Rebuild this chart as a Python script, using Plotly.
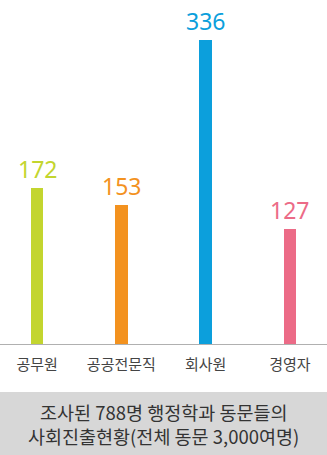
import plotly.graph_objects as go

# 사회진출 분야별 인원
categories = ["공무원", "공공전문직", "회사원", "경영자"]
counts = [172, 153, 336, 127]
bar_colors = ["#c3d52f", "#f3921f", "#0c9fdc", "#ec6b87"]
caption_lines = ["조사된 788명 행정학과 동문들의", "사회진출현황(전체 동문 3,000여명)"]

W, H = 327, 455
KR_FONT = "Noto Sans CJK KR, Noto Sans, sans-serif"
NUM_FONT = "Noto Sans, Open Sans, sans-serif"

fig = go.Figure()
fig.add_trace(go.Bar(
    x=categories,
    y=counts,
    width=0.15,
    marker=dict(color=bar_colors, line=dict(width=0)),
    hoverinfo="skip",
))

# value labels above each bar
for cat, val, col in zip(categories, counts, bar_colors):
    fig.add_annotation(
        x=cat, y=val, xref="x", yref="y",
        text=str(val), showarrow=False,
        yanchor="bottom", yshift=1,
        font=dict(family=NUM_FONT, size=23, color=col),
    )

# grey caption panel at the bottom
panel_top = 63 / H
fig.add_shape(
    type="rect", xref="paper", yref="paper",
    x0=0, x1=1, y0=0, y1=panel_top,
    fillcolor="#d7d7d7", line=dict(width=0), layer="below",
)
for line, ypix in zip(caption_lines, [412, 436]):
    fig.add_annotation(
        x=0.5, y=1 - ypix / H, xref="paper", yref="paper",
        text=line, showarrow=False, xanchor="center", yanchor="middle",
        font=dict(family=KR_FONT, size=18.5, color="#333333"),
    )

base_frac = 1 - 344 / H
fig.update_layout(
    width=W, height=H,
    margin=dict(l=0, r=0, t=0, b=0),
    paper_bgcolor="white", plot_bgcolor="white",
    showlegend=False,
    bargap=0,
    xaxis=dict(
        domain=[0, 1], range=[-0.44, 3.44],
        showline=True, linecolor="#b0b0b0", linewidth=1,
        showgrid=False, zeroline=False, ticks="",
        tickfont=dict(family=KR_FONT, size=15, color="#444444"),
        ticklabelstandoff=7,
        fixedrange=True,
    ),
    yaxis=dict(
        domain=[base_frac, 1], range=[0, 380],
        visible=False, showgrid=False, zeroline=False,
        fixedrange=True,
    ),
)

fig.write_html("out.html", config={"displayModeBar": False})
